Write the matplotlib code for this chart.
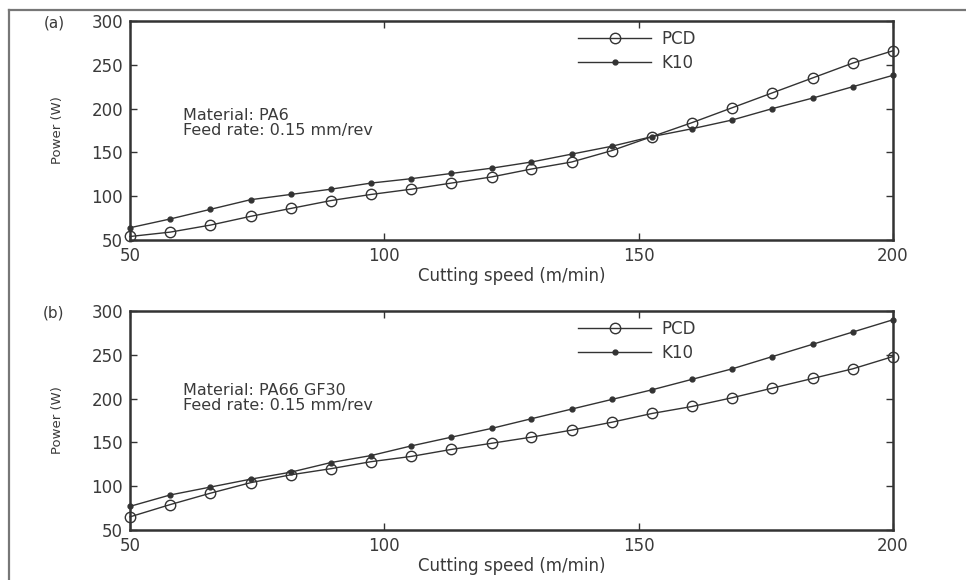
import numpy as np
import matplotlib.pyplot as plt
from matplotlib.lines import Line2D

# cutting speed (m/min), 20 points from 50 to 200
speed = [50.0, 57.9, 65.8, 73.7, 81.6, 89.5, 97.4, 105.3, 113.2, 121.1,
         128.9, 136.8, 144.7, 152.6, 160.5, 168.4, 176.3, 184.2, 192.1, 200.0]

# (a) PA6
pcd_a = [54, 59, 67, 77, 86, 95, 102, 108, 115, 122,
         131, 139, 152, 168, 184, 201, 218, 235, 252, 266]
k10_a = [64, 74, 85, 96, 102, 108, 115, 120, 126, 132,
         139, 148, 157, 168, 177, 187, 200, 212, 225, 238]

# (b) PA66 GF30
pcd_b = [65, 79, 92, 104, 113, 120, 128, 134, 142, 149,
         156, 164, 173, 183, 191, 201, 212, 223, 234, 248]
k10_b = [77, 90, 99, 108, 116, 127, 135, 146, 156, 166,
         177, 188, 199, 210, 222, 234, 248, 262, 276, 290]

panels = [("(a)", "Material: PA6", pcd_a, k10_a, 183.5),
          ("(b)", "Material: PA66 GF30", pcd_b, k10_b, 200.5)]

txt = '#3a3a3a'
ln = '#333333'
plt.rcParams['font.family'] = ['DejaVu Sans']

fig = plt.figure(figsize=(9.66, 5.8), dpi=100)

# outer frame (top and left only)
fig.add_artist(Line2D([9 / 966, 1], [1 - 10 / 580, 1 - 10 / 580], color='#777777', lw=1.6))
fig.add_artist(Line2D([9 / 966, 9 / 966], [0, 1 - 10 / 580], color='#777777', lw=1.6))

tops = [1 - 21 / 580, 1 - 311 / 580]
h = 219 / 580
left = 130 / 966
w = 763 / 966

for (tag, mat, pcd, k10, note_y), top in zip(panels, tops):
    ax = fig.add_axes([left, top - h, w, h])
    ax.plot(speed, pcd, '-', color=ln, lw=1.0, marker='o', ms=7.5,
            mfc='none', mec=ln, mew=1.0, label='PCD', clip_on=False)
    ax.plot(speed, k10, '-', color=ln, lw=1.0, marker='.', ms=7,
            label='K10', clip_on=False)
    ax.set_xlim(50, 200)
    ax.set_ylim(50, 300)
    ax.set_xticks([50, 100, 150, 200])
    ax.set_yticks([50, 100, 150, 200, 250, 300])
    ax.tick_params(direction='in', top=True, right=True, length=5,
                   width=1, labelsize=12, labelcolor=txt, pad=5, color='#333333')
    for s in ax.spines.values():
        s.set_linewidth(1.8)
        s.set_color('#333333')
    ax.set_xlabel("Cutting speed (m/min)", fontsize=12, color=txt)
    ax.xaxis.set_label_coords(0.5, -0.125)
    ax.set_ylabel("Power (W)", fontsize=9.5, color=txt)
    ax.yaxis.set_label_coords(-0.087, 0.5)
    ax.text(60.4, note_y, mat + "\nFeed rate: 0.15 mm/rev", fontsize=11.5,
            color=txt, va='center', linespacing=1.0)
    ax.legend(loc='upper left', bbox_to_anchor=(0.587, 0.96), frameon=False,
              borderpad=0, borderaxespad=0, handlelength=4.4, handletextpad=0.6,
              labelspacing=0.35, fontsize=12, labelcolor=txt)
    fig.text(54 / 966, top - 2 / 580, tag, fontsize=11, color=txt, ha='center', va='center')

fig.savefig('out.png', dpi=100)
